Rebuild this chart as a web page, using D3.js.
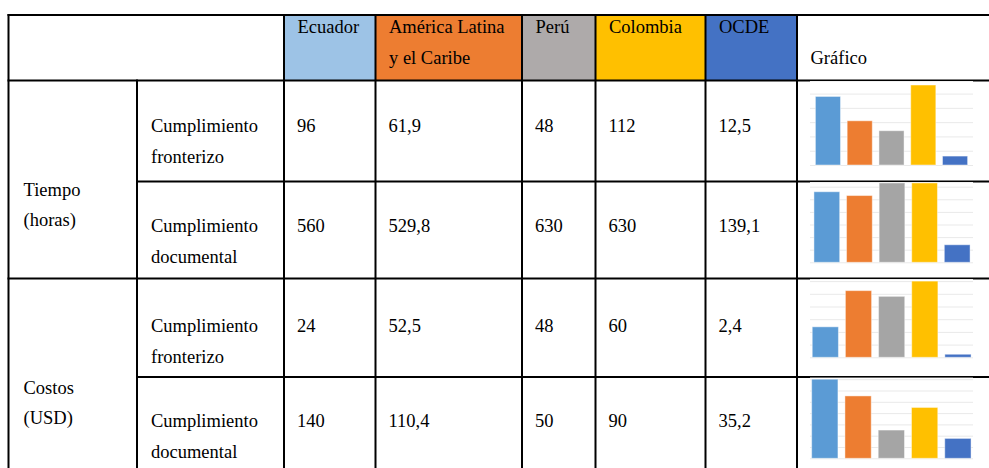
<!DOCTYPE html>
<html>
<head>
<meta charset="utf-8">
<script src="https://cdn.jsdelivr.net/npm/d3@7"></script>
<style>
  body { margin: 0; background: #fff; }
  text { font-family: "Liberation Serif", "Times New Roman", serif; font-size: 18.5px; fill: #000; }
</style>
</head>
<body>
<div id="chart"></div>
<script>
// data
const countries = ['Ecuador', 'América Latina y el Caribe', 'Perú', 'Colombia', 'OCDE'];
const headerLines = [['Ecuador'], ['América Latina', 'y el Caribe'], ['Perú'], ['Colombia'], ['OCDE']];
const groupLabels = [['Tiempo', '(horas)'], ['Costos', '(USD)']];
const rowLabels = [['Cumplimiento', 'fronterizo'], ['Cumplimiento', 'documental'],
                   ['Cumplimiento', 'fronterizo'], ['Cumplimiento', 'documental']];
const tiempoFronterizo = [96, 61.9, 48, 112, 12.5];
const tiempoDocumental = [560, 529.8, 630, 630, 139.1];
const costoFronterizo = [24, 52.5, 48, 60, 2.4];
const costoDocumental = [140, 110.4, 50, 90, 35.2];
const axisMax = [120, 700, 70, 160];
const tickCounts = [6, 7, 7, 8];
const chartTitle = 'Gráfico';

const rows = [tiempoFronterizo, tiempoDocumental, costoFronterizo, costoDocumental];

const headerFill = ['#9dc3e6', '#ed7d31', '#aeaaaa', '#ffc000', '#4472c4'];
const barFill = ['#5b9bd5', '#ed7d31', '#a5a5a5', '#ffc000', '#4472c4'];

// layout
const W = 989, H = 468;
const colX = [8.5, 137, 284, 375.5, 522, 595.5, 705.5, 797];
const rowY = [15, 80.5, 181.5, 278.5, 377, 476];
const tableRight = 1000;
const baseFirst = [131.5, 231.5, 331.5, 427];
const lineGap = 31;
const groupBase = [196, 394];
const plotY = [[165, 79.3], [262.3, 174.1], [357.3, 268.4], [458.3, 367.9]];
const plotX = [[810, 973], [808.4, 975.6], [806.6, 976.7], [806, 976.7]];
const gridX = [810, 973];

const locale = d3.formatLocale({decimal: ',', thousands: '.', grouping: [3], currency: ['', '']});
const fmt = locale.format('~f');

const svg = d3.select('#chart').append('svg')
    .attr('width', W)
    .attr('height', H);

// header fills
svg.append('g')
  .selectAll('rect')
  .data(headerFill)
  .enter()
  .append('rect')
    .attr('x', (d, i) => colX[i + 2])
    .attr('y', rowY[0])
    .attr('width', (d, i) => colX[i + 3] - colX[i + 2])
    .attr('height', rowY[1] - rowY[0])
    .attr('fill', d => d);

// header text
headerLines.forEach((lines, i) => {
  lines.forEach((t, k) => {
    svg.append('text')
      .attr('x', colX[i + 2] + 13.5)
      .attr('y', 33 + k * lineGap)
      .text(t);
  });
});
svg.append('text')
  .attr('x', colX[7] + 13.5)
  .attr('y', 64)
  .text(chartTitle);

// group labels
groupLabels.forEach((lines, g) => {
  lines.forEach((t, k) => {
    svg.append('text')
      .attr('x', colX[0] + 15)
      .attr('y', groupBase[g] + k * 30)
      .text(t);
  });
});

// row labels and values
rows.forEach((vals, r) => {
  rowLabels[r].forEach((t, k) => {
    svg.append('text')
      .attr('x', colX[1] + 14)
      .attr('y', baseFirst[r] + k * lineGap)
      .text(t);
  });
  vals.forEach((v, i) => {
    svg.append('text')
      .attr('x', colX[i + 2] + 13)
      .attr('y', baseFirst[r])
      .text(fmt(v));
  });
});

// borders
let lines = [];
colX.forEach((x, i) => {
  lines.push({x1: x, y1: i == 1 ? rowY[1] : rowY[0], x2: x, y2: rowY[5]});
});
lines.push({x1: colX[0], y1: rowY[0], x2: tableRight, y2: rowY[0]});
lines.push({x1: colX[0], y1: rowY[1], x2: tableRight, y2: rowY[1]});
lines.push({x1: colX[1], y1: rowY[2], x2: tableRight, y2: rowY[2]});
lines.push({x1: colX[0], y1: rowY[3], x2: tableRight, y2: rowY[3]});
lines.push({x1: colX[1], y1: rowY[4], x2: tableRight, y2: rowY[4]});

svg.append('g')
  .selectAll('line')
  .data(lines)
  .enter()
  .append('line')
    .attr('x1', d => d.x1).attr('y1', d => d.y1)
    .attr('x2', d => d.x2).attr('y2', d => d.y2)
    .attr('stroke', '#000')
    .attr('stroke-width', 2)
    .attr('stroke-linecap', 'square');

// small bar charts
rows.forEach((vals, r) => {
  let top = rowY[r + 1] + 0.6, bottom = rowY[r + 2] - 1.5;
  let g = svg.append('g');

  g.append('clipPath')
      .attr('id', `clip${r}`)
    .append('rect')
      .attr('x', gridX[0]).attr('y', top)
      .attr('width', gridX[1] - gridX[0]).attr('height', bottom - top);

  g.append('rect')
    .attr('x', gridX[0]).attr('y', top)
    .attr('width', gridX[1] - gridX[0]).attr('height', bottom - top)
    .attr('fill', '#fff');

  let inner = g.append('g').attr('clip-path', `url(#clip${r})`);

  let x = d3.scaleBand()
    .domain(countries)
    .range(plotX[r])
    .paddingInner(0.21)
    .paddingOuter(0.17);

  let y = d3.scaleLinear()
    .domain([0, axisMax[r]])
    .range(plotY[r]);

  // gridlines
  let grid = inner.append('g')
    .attr('transform', `translate(${gridX[0]},0)`)
    .call(d3.axisLeft(y).ticks(tickCounts[r]).tickSize(-(gridX[1] - gridX[0])).tickFormat(''));
  grid.select('.domain').remove();
  grid.selectAll('line').attr('stroke', '#e9e9e9').attr('stroke-width', 1);

  inner.append('g')
    .selectAll('rect')
    .data(vals)
    .enter()
    .append('rect')
      .attr('x', (d, i) => x(countries[i]))
      .attr('y', d => y(d))
      .attr('width', x.bandwidth())
      .attr('height', d => y(0) - y(d))
      .attr('fill', (d, i) => barFill[i])
      .attr('stroke', '#fff')
      .attr('stroke-opacity', 0.45)
      .attr('stroke-width', 1);
});
</script>
</body>
</html>
